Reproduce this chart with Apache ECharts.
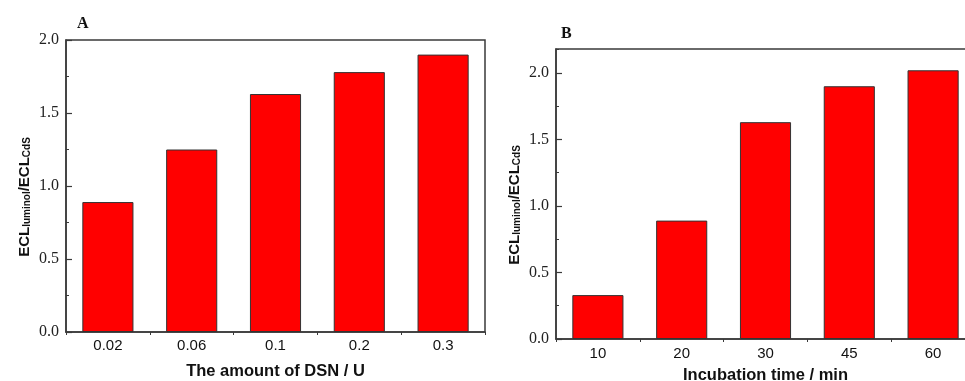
<!DOCTYPE html>
<html><head><meta charset="utf-8">
<script src="https://cdn.jsdelivr.net/npm/echarts@6/dist/echarts.min.js"></script>
<style>html,body{margin:0;padding:0;background:#fff}#c{width:965px;height:381px}</style>
</head><body><div id="c"></div>
<script>
// Panel A data
const catA = ['0.02', '0.06', '0.1', '0.2', '0.3'];
const valA = [0.89, 1.25, 1.63, 1.78, 1.90];
// Panel B data
const catB = ['10', '20', '30', '45', '60'];
const valB = [0.33, 0.89, 1.63, 1.90, 2.02];
// Axis settings
const yMaxA = 2.0;
const yMaxB = 2.18;
const yStep = 0.5;
const yMinorStep = 0.25;
const xNameA = 'The amount of DSN / U';
const xNameB = 'Incubation time / min';
const yName = '{a|ECL}{s|luminol}{a|/ECL}{s|CdS}';

const AX = '#3a3a3a';
const serif = 'Liberation Serif';
const sans = 'Liberation Sans';

function grid(left, top, height) {
  return { left: left, top: top, width: 419, height: height, show: true, borderColor: AX, borderWidth: 1.5, backgroundColor: 'transparent', containLabel: false, outerBoundsMode: 'none' };
}
function mainX(gi, data, name, gap, margin) {
  return {
    type: 'category', gridIndex: gi, data: data, boundaryGap: true,
    axisLine: { show: true, lineStyle: { color: AX, width: 1.5 } },
    axisTick: { show: true, inside: true, alignWithLabel: true, length: 6, lineStyle: { color: AX, width: 1.2 } },
    axisLabel: { color: '#111', fontFamily: sans, fontSize: 15, margin: margin },
    splitLine: { show: false },
    name: name, nameLocation: 'middle', nameGap: gap,
    nameTextStyle: { fontFamily: sans, fontWeight: 'bold', fontSize: 16.5, color: '#111' }
  };
}
function tickX(gi, data) {
  return {
    type: 'category', gridIndex: gi, data: data, boundaryGap: true, position: 'bottom',
    axisLine: { show: false },
    axisTick: { show: true, inside: false, alignWithLabel: false, length: 3, lineStyle: { color: AX, width: 1 } },
    axisLabel: { show: false }, splitLine: { show: false }
  };
}
function mainY(gi, max) {
  return {
    type: 'value', gridIndex: gi, min: 0, max: max, interval: yStep,
    axisLine: { show: true, lineStyle: { color: AX, width: 1.5 } },
    axisTick: { show: true, inside: true, length: 6, lineStyle: { color: AX, width: 1.2 } },
    axisLabel: { color: '#222', fontFamily: serif, fontSize: 16, margin: 7, showMaxLabel: max === yMaxA, formatter: v => v.toFixed(1) },
    splitLine: { show: false },
    name: yName, nameLocation: 'middle', nameGap: 34,
    nameTextStyle: {
      padding: [0, 22, 0, 0],
      rich: {
        a: { fontFamily: sans, fontWeight: 'bold', fontSize: 15, color: '#111', verticalAlign: 'bottom', lineHeight: 18 },
        s: { fontFamily: sans, fontWeight: 'bold', fontSize: 10, color: '#111', verticalAlign: 'bottom', lineHeight: 18, padding: [6, 0, 0, 0] }
      }
    }
  };
}
function minorY(gi, max) {
  return {
    type: 'value', gridIndex: gi, min: 0, max: max, interval: yMinorStep, position: 'left',
    axisLine: { show: false },
    axisTick: { show: true, inside: true, length: 3, lineStyle: { color: AX, width: 1 } },
    axisLabel: { show: false }, splitLine: { show: false }
  };
}
const barStyle = { color: '#ff0000', borderColor: '#333', borderWidth: 1 };

const chart = echarts.init(document.getElementById('c'));
chart.setOption({
  backgroundColor: '#fff',
  animation: false,
  grid: [grid(66, 40, 292), grid(556, 49, 290)],
  xAxis: [mainX(0, catA, xNameA, 31, 6), mainX(1, catB, xNameB, 28, 7), tickX(0, catA), tickX(1, catB)],
  yAxis: [mainY(0, yMaxA), mainY(1, yMaxB), minorY(0, yMaxA), minorY(1, yMaxB)],
  graphic: [
    { type: 'text', left: 77, top: 16, style: { text: 'A', font: 'bold 16px "Liberation Serif"', fill: '#111' } },
    { type: 'text', left: 561, top: 26, style: { text: 'B', font: 'bold 16px "Liberation Serif"', fill: '#111' } }
  ],
  series: [
    { type: 'bar', xAxisIndex: 0, yAxisIndex: 0, data: valA, barWidth: '61%', itemStyle: barStyle },
    { type: 'bar', xAxisIndex: 1, yAxisIndex: 1, data: valB, barWidth: '61%', itemStyle: barStyle }
  ]
});
</script>
</body></html>
